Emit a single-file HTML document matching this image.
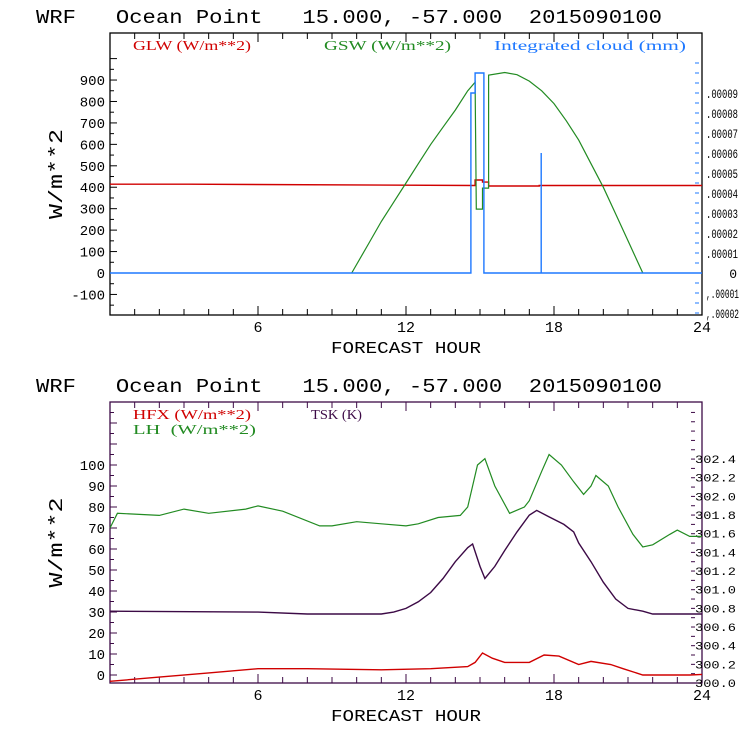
<!DOCTYPE html>
<html><head><meta charset="utf-8"><style>
html,body{margin:0;padding:0;background:#fff;}
svg{display:block;font-family:"Liberation Mono",monospace;}
.ttl{white-space:pre;}
</style></head><body>
<svg id="s" width="740" height="740" viewBox="0 0 740 740" xmlns="http://www.w3.org/2000/svg">
<text class="ttl" xml:space="preserve" x="36" y="23" font-size="19" textLength="626" lengthAdjust="spacingAndGlyphs">WRF   Ocean Point   15.000, -57.000  2015090100</text>
<text class="ttl" xml:space="preserve" x="36" y="392" font-size="19" textLength="626" lengthAdjust="spacingAndGlyphs">WRF   Ocean Point   15.000, -57.000  2015090100</text>
<g id="top"></g>
<g id="bot"></g>
</svg>
<script>
// ---- data ----
const glwHours = [0, 3.2, 14.8, 14.8, 15.1, 15.1, 15.35, 15.35, 17.4, 17.4, 24];
const glwVals  = [414, 414, 408, 434, 434, 424, 424, 406, 406, 408, 408];
const gswHours = [9.8,10.5,11,11.5,12,12.5,13,13.5,14,14.5,14.8,14.85,15.1,15.1,15.35,15.35,16,16.5,17,17.5,18,18.5,19,19.5,20,20.5,21,21.6];
const gswVals  = [0,140,240,330,420,510,600,680,760,850,890,298,298,396,396,923,935,925,895,850,790,710,620,510,400,275,150,0];
const cldHours = [0,14.63,14.63,14.8,14.8,15.16,15.16,17.48,17.48,17.48,24];
const cldVals  = [0,0,0.00009,0.00009,0.0001,0.0001,0,0,0.00006,0,0];
const topYTicks = [-100,0,100,200,300,400,500,600,700,800,900];
const topRTicks = ['-.00002','-.00001','0','.00001','.00002','.00003','.00004','.00005','.00006','.00007','.00008','.00009'];
const xTicks = [6,12,18,24];

const lhHours = [0,0.3,2,3,4,5.5,6,7,8.5,9,10,11,12,12.5,13.3,14.2,14.5,14.9,15.2,15.6,16.2,16.8,17,17.5,17.8,18.3,18.8,19.2,19.5,19.7,20.2,20.6,21.2,21.6,22,22.7,23,23.5,24];
const lhVals  = [70,77,76,79,77,79,80.5,78,71,71,73,72,71,72,75,76,80,100,103,90,77,80,83,97,105,100,92,86,90,95,90,80,67,61,62,67,69,66,66];
const hfxHours = [0,2,4,6,8,11,13,14.5,14.8,15.1,15.5,16,17,17.6,18.2,19,19.5,20.3,20.8,21.6,23.5,24];
const hfxVals  = [-3,-1,1,3,3,2.5,3,4,6,10.5,8,6,6,9.5,9,5,6.5,5,3,0,0,0.3];
const tskHours = [0,6,8,11,11.5,12,12.5,13,13.5,14,14.5,14.7,15,15.2,15.6,16,16.5,17,17.3,17.8,18.4,18.8,19,19.5,20,20.5,21,21.6,22,24];
const tskVals  = [300.77,300.76,300.74,300.74,300.76,300.8,300.87,300.97,301.12,301.3,301.45,301.49,301.25,301.12,301.25,301.42,301.62,301.8,301.85,301.78,301.7,301.62,301.5,301.3,301.08,300.9,300.8,300.77,300.74,300.74];
const botYTicks = [0,10,20,30,40,50,60,70,80,90,100];
const botRTicks = ['300.0','300.2','300.4','300.6','300.8','301.0','301.2','301.4','301.6','301.8','302.0','302.2','302.4'];

const NS='http://www.w3.org/2000/svg';
function mk(parent,tag,attrs,txt){const e=document.createElementNS(NS,tag);for(const k in attrs)e.setAttribute(k,attrs[k]);if(txt!==undefined)e.textContent=txt;parent.appendChild(e);return e;}
const X0=110,X1=702;
const xs=h=>X0+(X1-X0)*h/24;
function pathOf(hs,vs,ys){return hs.map((h,i)=>(i?'L':'M')+xs(h).toFixed(1)+' '+ys(vs[i]).toFixed(1)).join(' ');}

function frame(g,top,bot,col){
  const r=mk(g,'rect',{x:X0,y:top,width:X1-X0,height:bot-top,fill:'none',stroke:col,'stroke-width':1.3});
  
  for(let h=1;h<24;h++){
    const t=mk(g,'line',{x1:xs(h),x2:xs(h),y1:bot,y2:bot-(h%6?6:9),stroke:col});
    
    const t2=mk(g,'line',{x1:xs(h),x2:xs(h),y1:top,y2:top+(h%6?6:9),stroke:col});
    
  }
  xTicks.forEach(v=>{const t=mk(g,'text',{x:xs(v),y:bot+17,'font-size':15,'text-anchor':'middle'},String(v));
    });
  const xt=mk(g,'text',{x:406,y:bot+38,'font-size':17,'text-anchor':'middle',textLength:150,lengthAdjust:'spacingAndGlyphs'},'FORECAST HOUR');
  
  const cy=(top+bot)/2;
  const yt=mk(g,'text',{x:62,y:cy,'font-size':19,'text-anchor':'middle',transform:`rotate(-90 62 ${cy})`,textLength:90,lengthAdjust:'spacingAndGlyphs'},'W/m**2');
  
}

// ---- top chart ----
(function(){
  const g=document.getElementById('top');
  const TOP=33,BOT=315;
  const y=v=>273-v*0.2144;
  const yr=v=>273-v*2000000;
  frame(g,TOP,BOT,'#000');
  for(let v=-150;v<=1000;v+=50){if(y(v)>TOP&&y(v)<BOT){const t=mk(g,'line',{x1:X0,x2:X0+(v%100?4:7),y1:y(v),y2:y(v),stroke:'#000'});
    }}
  topYTicks.forEach(v=>{const t=mk(g,'text',{x:105,y:y(v)+5,'font-size':14,'text-anchor':'end'},String(v));
    });
  for(let i=-2;i<=10;i++){for(const o of [0,0.5]){const v=(i+o)*0.00001;if(yr(v)>TOP&&yr(v)<BOT){
    const t=mk(g,'line',{x1:X1-7,x2:X1-3,y1:yr(v),y2:yr(v),stroke:'#1e78ff'});
    }}}
  topRTicks.forEach((s,i)=>{const v=(i-2)*0.00001;const zero=s==='0';
    const a={x:zero?737:706,y:yr(v)+5,'font-size':13,'text-anchor':zero?'end':'start'};
    if(!zero){a.textLength=s[0]==='-'?33:32;a.lengthAdjust='spacingAndGlyphs';}
    const t=mk(g,'text',a,s.replace('-',','));
    });
  let p=mk(g,'path',{d:pathOf(glwHours,glwVals,y),fill:'none',stroke:'#d00000','stroke-width':1.4});
  
  p=mk(g,'path',{d:pathOf(gswHours,gswVals,y),fill:'none',stroke:'#228b22','stroke-width':1.2});
  
  p=mk(g,'path',{d:pathOf(cldHours,cldVals,yr),fill:'none',stroke:'#1e78ff','stroke-width':1.4});
  
  const f='font-family:"Liberation Serif",serif';
  let t=mk(g,'text',{x:133,y:50,'font-size':14,fill:'#d00000',style:f,textLength:118,lengthAdjust:'spacingAndGlyphs'},'GLW (W/m**2)');
  
  t=mk(g,'text',{x:324,y:50,'font-size':14,fill:'#228b22',style:f,textLength:127,lengthAdjust:'spacingAndGlyphs'},'GSW (W/m**2)');
  
  t=mk(g,'text',{x:494,y:50,'font-size':14,fill:'#1e78ff',style:f,textLength:192,lengthAdjust:'spacingAndGlyphs'},'Integrated cloud (mm)');
  
})();

// ---- bottom chart ----
(function(){
  const g=document.getElementById('bot');
  const TOP=402,BOT=683,C='#3c0a46';
  const y=v=>675-v*2.1;
  const yr=v=>683-(v-300)*93.3;
  frame(g,TOP,BOT,C);
  for(let v=0;v<=130;v+=5){if(y(v)>TOP&&y(v)<BOT){const t=mk(g,'line',{x1:X0,x2:X0+(v%10?4:7),y1:y(v),y2:y(v),stroke:C});
    }}
  botYTicks.forEach(v=>{const t=mk(g,'text',{x:105,y:y(v)+5,'font-size':14,'text-anchor':'end'},String(v));
    });
  for(let v=300;v<=303;v+=0.1){if(yr(v)>TOP&&yr(v)<=BOT){const t=mk(g,'line',{x1:691,x2:695,y1:yr(v),y2:yr(v),stroke:C});
    }}
  botRTicks.forEach(s=>{const t=mk(g,'text',{x:695,y:yr(parseFloat(s))+4,'font-size':11,textLength:41,lengthAdjust:'spacingAndGlyphs'},s);
    });
  let p=mk(g,'path',{d:pathOf(lhHours,lhVals,y),fill:'none',stroke:'#228b22','stroke-width':1.2});
  
  p=mk(g,'path',{d:pathOf(hfxHours,hfxVals,y),fill:'none',stroke:'#d00000','stroke-width':1.4});
  
  p=mk(g,'path',{d:pathOf(tskHours,tskVals,yr),fill:'none',stroke:C,'stroke-width':1.4});
  
  const f='font-family:"Liberation Serif",serif';
  let t=mk(g,'text',{x:133,y:419,'font-size':14,fill:'#d00000',style:f,textLength:118,lengthAdjust:'spacingAndGlyphs'},'HFX (W/m**2)');
  
  t=mk(g,'text',{x:133,y:434,'font-size':14,fill:'#228b22',style:f+';white-space:pre',textLength:123,lengthAdjust:'spacingAndGlyphs'},'LH  (W/m**2)');
  
  t=mk(g,'text',{x:311,y:419,'font-size':14,fill:C,style:f,textLength:51,lengthAdjust:'spacingAndGlyphs'},'TSK (K)');
  
})();
</script>
</body></html>
